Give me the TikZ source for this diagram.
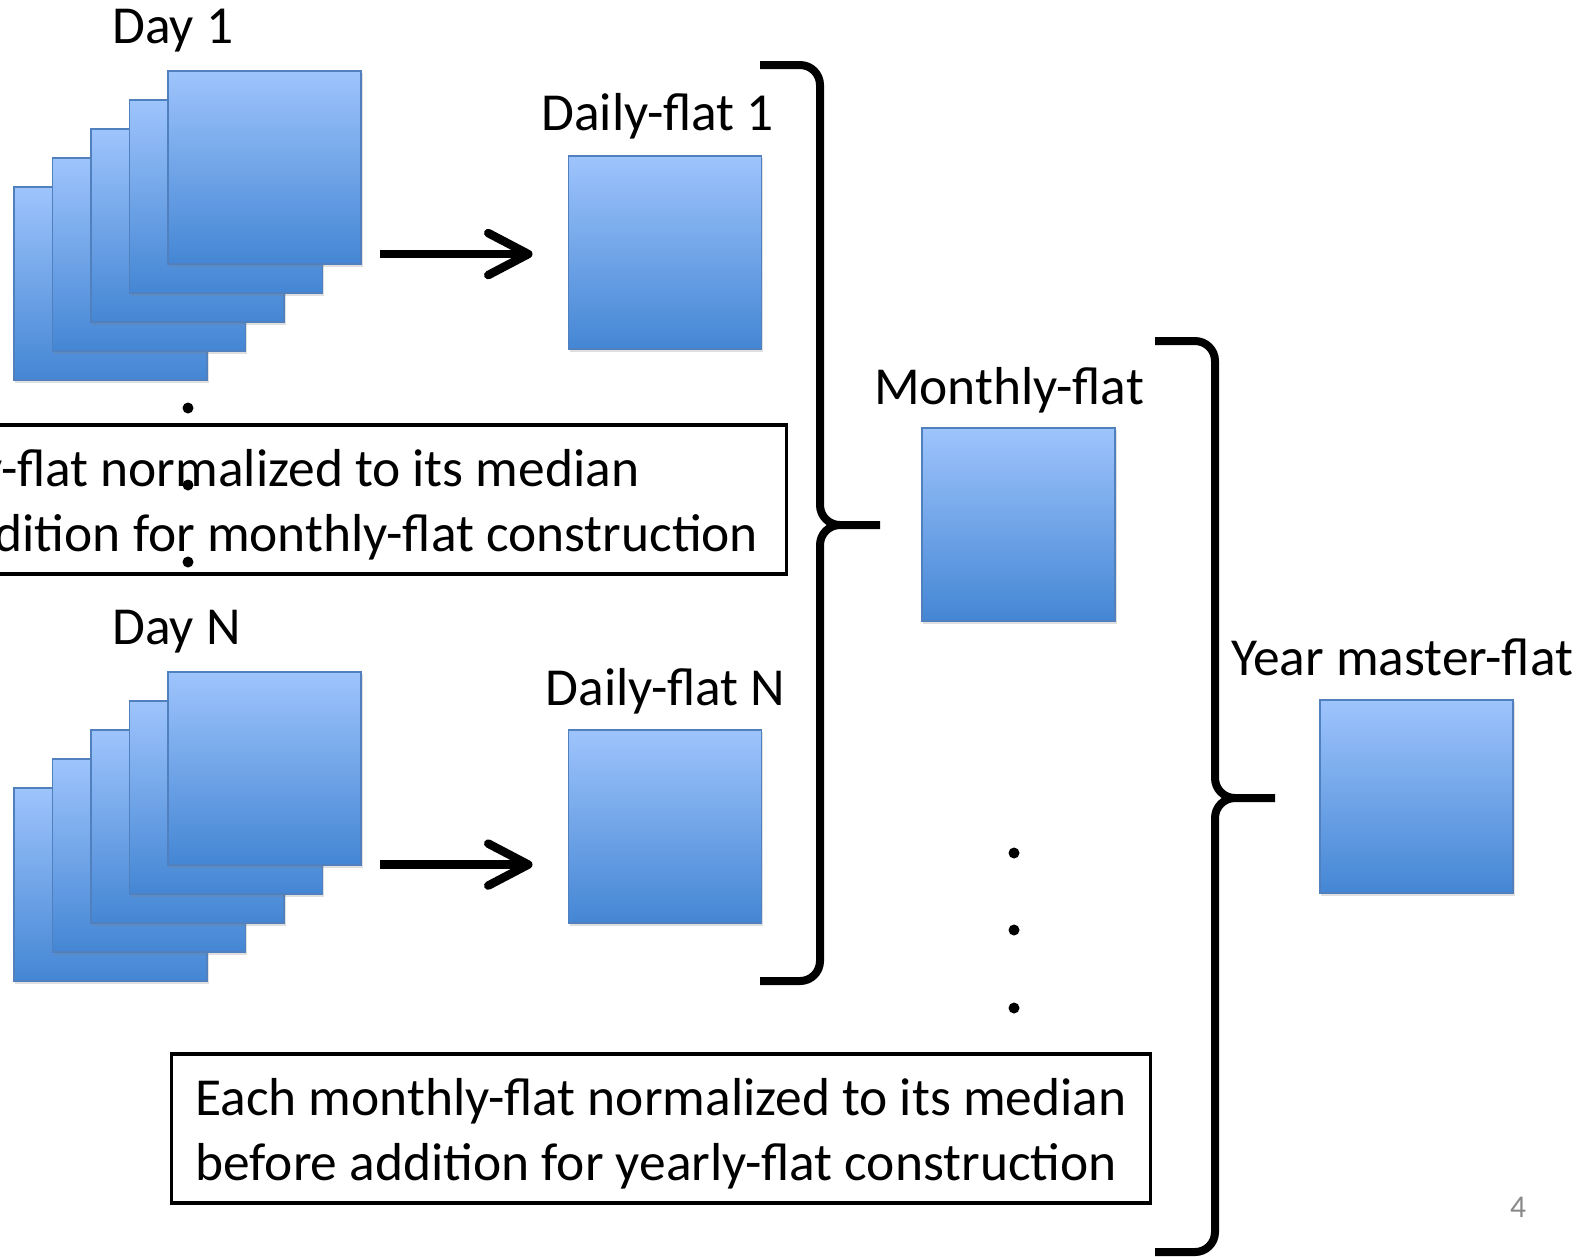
\documentclass[tikz,border=0pt]{standalone}
\usepackage{fontspec}
\setmainfont{Carlito}
\usepackage{xcolor}
\usepackage{tikz}
\usetikzlibrary{calc,positioning,arrows.meta,shadows}

\definecolor{flattop}{RGB}{158,196,252}
\definecolor{flatbot}{RGB}{68,134,212}
\definecolor{flatedge}{RGB}{80,128,190}
\definecolor{pagegray}{RGB}{137,137,137}

\tikzset{
  every node/.style={font=\fontsize{15.2}{18.4}\selectfont},
  flat/.style={draw=flatedge, line width=0.018cm, top color=flattop, bottom color=flatbot,
    minimum size=1.93cm, inner sep=0pt,
    drop shadow={shadow xshift=0.015cm, shadow yshift=-0.025cm, opacity=0.25}},
  note/.style={draw, line width=0.032cm, align=left, minimum height=1.49cm, inner sep=0pt},
  bigarrow/.style={line width=0.085cm, -{Straight Barb[length=0.4cm,width=0.42cm,round]}},
  curly/.style={line width=0.08cm, line join=round},
  lbl/.style={anchor=base}
}
\newcommand{\firstline}{\rule{0pt}{0.48cm}}

\begin{document}
\begin{tikzpicture}[x=0.01cm,y=-0.01cm]
\useasboundingbox (0,0) rectangle (1594,1256);
\clip (0,0) rectangle (1594,1256);

% stacks of single frames, day 1 and day N
\foreach\r/\dy in {A/0,N/601}
  \foreach\k in {0,...,4}
    \node[flat] (stack\r\k) at (110.5+38.5*\k, 283.5-29*\k+\dy) {};
\node[lbl, anchor=base west] (dayA) at (100,43) {Day 1};
\node[lbl, anchor=base west] (dayN) at (100,644) {Day N};

% daily flats
\node[flat] (dflatA) at (665,252.5) {};
\node[flat] (dflatN) at (665,826.5) {};
\node[lbl] at (657.5,130) {Daily-flat 1};
\node[lbl] at (665.5,705) {Daily-flat N};

\draw[bigarrow, shorten <=0.18cm, shorten >=0.35cm] ([yshift=-0.865cm]stackA4.east) -- ([yshift=-0.865cm]stackA4.east -| dflatA.west);
\draw[bigarrow, shorten <=0.18cm, shorten >=0.35cm] ([yshift=-0.96cm]stackN4.east) -- ([yshift=-0.96cm]stackN4.east -| dflatN.west);

% note for the daily flats
\node[note, minimum width=10.27cm] (noteA) at (272.5,499.5)
  {\firstline Each daily-flat normalized to its median\\before addition for monthly-flat construction};
\foreach\y in {408,485,562}
  \fill (188,\y) circle [radius=0.055cm];

% monthly flat
\draw[curly] (760,65) -- (800,65) to[out=0,in=90] (820,85) -- (820,505)
  to[out=-90,in=180] (840,525) -- (880,525)
  (840,525) to[out=180,in=90] (820,545) -- (820,961)
  to[out=-90,in=0] (800,981) -- (760,981);
\node[flat] (mflat) at (1018.5,524.5) {};
\node[lbl] at (1009,404) {Monthly-flat};
\foreach\y in {853,930,1008}
  \fill (1014,\y) circle [radius=0.055cm];

% note for the monthly flats
\node[note, minimum width=9.78cm] (noteB) at (661,1128.5)
  {\firstline Each monthly-flat normalized to its median\\before addition for yearly-flat construction};

% year master flat
\draw[curly] (1155,341) -- (1195,341) to[out=0,in=90] (1215,361) -- (1215,778)
  to[out=-90,in=180] (1235,798) -- (1275,798)
  (1235,798) to[out=180,in=90] (1215,818) -- (1215,1232)
  to[out=-90,in=0] (1195,1252) -- (1155,1252);
\node[flat] (yflat) at (1416.5,796.5) {};
\node[lbl] at (1402,675) {Year master-flat};

\node[lbl, font=\fontsize{9}{11}\selectfont, text=pagegray] (pagenum) at (1518,1217) {4};
\end{tikzpicture}
\end{document}
